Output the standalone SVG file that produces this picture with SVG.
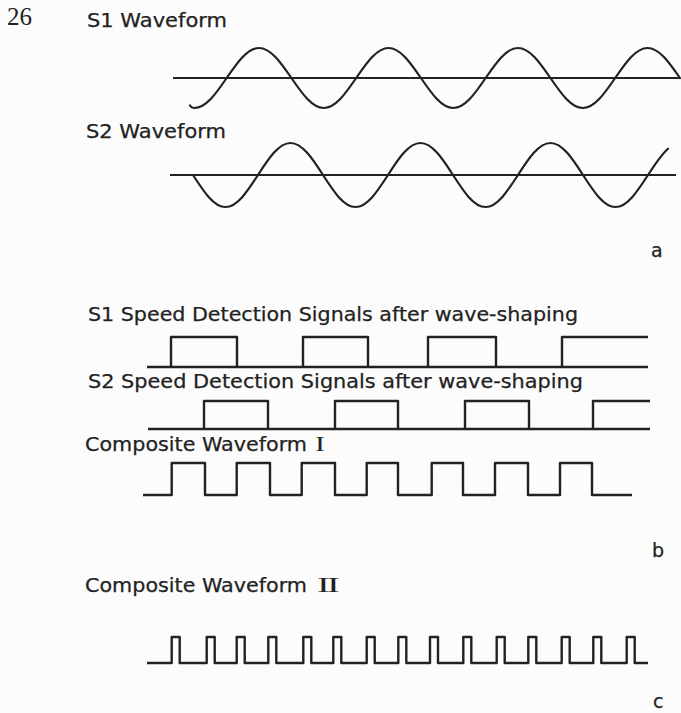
<svg xmlns="http://www.w3.org/2000/svg" width="681" height="713" viewBox="0 0 681 713">
<style>
.lbl{font-family:"DejaVu Sans","Liberation Sans",sans-serif;font-size:19px;fill:#222;stroke:#222;stroke-width:0.25}
.rn{font-family:"Liberation Serif","DejaVu Serif",serif;font-size:21px;fill:#222;stroke:none}
.num{font-family:"Liberation Serif","DejaVu Serif",serif;font-size:25px;fill:#222}
.ax{stroke:#222;stroke-width:1.8;fill:none}
.sine{stroke:#222;stroke-width:2.2;fill:none;stroke-linecap:round}
.sq{stroke:#222;stroke-width:2.4;fill:none;stroke-linejoin:round}
</style>
<rect width="681" height="713" fill="#fcfcfc"/>
<text class="num" x="7" y="25">26</text>

<g id="s1-wave">
<text class="lbl" x="87" y="27" textLength="140" lengthAdjust="spacingAndGlyphs">S1 Waveform</text>
<line class="ax" x1="173" y1="78" x2="680" y2="78"/>
<path class="sine" d="M190,105.5 C191,107.2 192.5,108 194.3,108 c 11.72,0 21.82,-14.63 32.375,-30
s 20.66,-30 32.375,-30 s 21.82,14.63 32.375,30 s 20.66,30 32.375,30 s 21.82,-14.63 32.375,-30
s 20.66,-30 32.375,-30 s 21.82,14.63 32.375,30 s 20.66,30 32.375,30 s 21.82,-14.63 32.375,-30
s 20.66,-30 32.375,-30 s 21.82,14.63 32.375,30 s 20.66,30 32.375,30 s 21.82,-14.63 32.375,-30
s 20.66,-30 32.375,-30 s 21.82,14.63 32.375,30"/>
</g>

<g id="s2-wave">
<text class="lbl" x="86" y="138" textLength="140" lengthAdjust="spacingAndGlyphs">S2 Waveform</text>
<line class="ax" x1="170" y1="175" x2="676" y2="175"/>
<path class="sine" d="M193,175 c 10.60,16.39 20.74,32 32.5,32 s 21.90,-15.61 32.5,-32
s 20.74,-32 32.5,-32 s 21.90,15.61 32.5,32 s 20.74,32 32.5,32 s 21.90,-15.61 32.5,-32
s 20.74,-32 32.5,-32 s 21.90,15.61 32.5,32 s 20.74,32 32.5,32 s 21.90,-15.61 32.5,-32
s 20.74,-32 32.5,-32 s 21.90,15.61 32.5,32 s 20.74,32 32.5,32 s 21.90,-15.61 32.5,-32
c 6.67,-10.3 13.33,-20.4 20,-26.3"/>
</g>
<text class="lbl" x="651" y="257">a</text>

<g id="s1-square">
<text class="lbl" x="88" y="321" textLength="490" lengthAdjust="spacingAndGlyphs">S1 Speed Detection Signals after wave-shaping</text>
<path class="sq" d="M147,367 H648 M171,367 V337 H237 V367 M303,367 V337 H368 V367 M428,367 V337 H496 V367 M562,367 V337 H648"/>
</g>

<g id="s2-square">
<text class="lbl" x="88" y="388" textLength="495" lengthAdjust="spacingAndGlyphs">S2 Speed Detection Signals after wave-shaping</text>
<path class="sq" d="M148,429 H650 M204,429 V401 H268 V429 M335,429 V401 H398 V429 M465,429 V401 H529 V429 M593,429 V401 H650"/>
</g>

<g id="composite-1">
<text class="lbl" x="85" y="451"><tspan textLength="222" lengthAdjust="spacingAndGlyphs">Composite Waveform</tspan><tspan class="rn" x="315" textLength="10" lengthAdjust="spacingAndGlyphs">I</tspan></text>
<path class="sq" d="M143,495 H171.7 V463 H205 V495 H236.7 V463 H270 V495 H301.7 V463 H335 V495 H366.7 V463 H398 V495 H431.7 V463 H463 V495 H495 V463 H528 V495 H560 V463 H592 V495 H632"/>
</g>
<text class="lbl" x="652" y="557">b</text>

<g id="composite-2">
<text class="lbl" x="85" y="592"><tspan textLength="222" lengthAdjust="spacingAndGlyphs">Composite Waveform</tspan><tspan class="rn" x="317" letter-spacing="-1.5" textLength="20" lengthAdjust="spacingAndGlyphs">II</tspan></text>
<path class="sq" d="M147,663 H171.7 v-26 h8 v26 H206.7 v-26 h8 v26 H236.7 v-26 h8 v26 H268.3 v-26 h8 v26 H303.3 v-26 h8 v26 H333.3 v-26 h8 v26 H366.7 v-26 h8 v26 H398.3 v-26 h8 v26 H430 v-26 h8 v26 H463.3 v-26 h8 v26 H496.7 v-26 h8 v26 H528.3 v-26 h8 v26 H561.7 v-26 h8 v26 H593.3 v-26 h8 v26 H626.7 v-26 h8 v26 H648"/>
</g>
<text class="lbl" x="653" y="708">c</text>
</svg>
